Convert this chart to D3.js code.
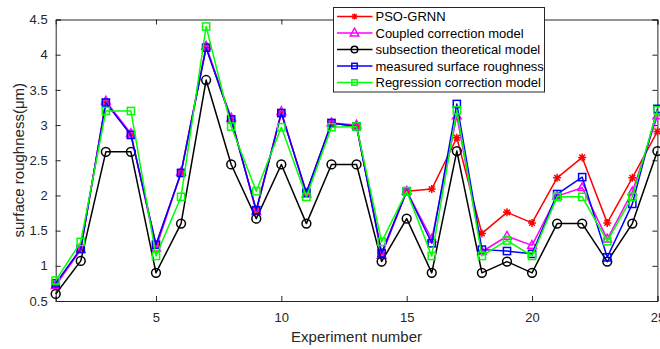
<!DOCTYPE html>
<html>
<head>
<meta charset="utf-8">
<script src="https://cdn.jsdelivr.net/npm/d3@7"></script>
<style>
  html, body { margin: 0; padding: 0; background: #fff; }
  svg { display: block; }
</style>
</head>
<body>
<div id="chart"></div>
<script>
// Data
const experiments = [1, 2, 3, 4, 5, 6, 7, 8, 9, 10, 11, 12, 13, 14, 15, 16, 17, 18, 19, 20, 21, 22, 23, 24, 25];
const psoGrnn    = [0.74, 1.24, 3.32, 2.86, 1.30, 2.32, 4.10, 3.08, 1.79, 3.17, 2.04, 3.03, 2.98, 1.18, 2.06, 2.09, 2.82, 1.46, 1.76, 1.61, 2.25, 2.54, 1.61, 2.25, 2.91];
const coupled    = [0.72, 1.23, 3.34, 2.88, 1.25, 2.33, 4.12, 3.10, 1.77, 3.19, 2.02, 3.03, 3.00, 1.15, 2.06, 1.38, 3.13, 1.20, 1.42, 1.29, 1.99, 2.11, 1.38, 2.05, 3.13];
const subsection = [0.60, 1.07, 2.62, 2.62, 0.90, 1.60, 3.64, 2.44, 1.67, 2.44, 1.60, 2.44, 2.44, 1.06, 1.67, 0.90, 2.63, 0.90, 1.06, 0.90, 1.60, 1.60, 1.06, 1.60, 2.63];
const measured   = [0.75, 1.24, 3.32, 2.86, 1.30, 2.32, 4.10, 3.08, 1.79, 3.17, 2.04, 3.03, 2.98, 1.18, 2.06, 1.32, 3.30, 1.23, 1.21, 1.17, 2.02, 2.26, 1.12, 1.88, 3.23];
const regression = [0.79, 1.34, 3.20, 3.20, 1.14, 1.98, 4.40, 2.98, 2.06, 2.97, 1.98, 2.97, 2.98, 1.34, 2.06, 1.14, 3.21, 1.14, 1.36, 1.14, 1.98, 1.98, 1.35, 1.98, 3.21];

const xTicks = [5, 10, 15, 20, 25];
const yTicks = [0.5, 1, 1.5, 2, 2.5, 3, 3.5, 4, 4.5];

const seriesNames = ["PSO-GRNN", "Coupled correction model", "subsection theoretical model",
    "measured surface roughness", "Regression correction model"];
const seriesValues = [psoGrnn, coupled, subsection, measured, regression];
const seriesColors = ["#ff0000", "#ff00ff", "#000000", "#0000ff", "#00ff00"];
const seriesMarkers = ["asterisk", "triangle", "circle", "square", "square"];

const width = 660, height = 349;
const margin = { top: 19.5, right: 2.6, bottom: 48, left: 55.7 };
const font_family = "Arial, 'Liberation Sans', sans-serif";
const axis_color = "#262626";

const svg = d3.select("#chart").append("svg")
    .attr("width", width)
    .attr("height", height)
    .attr("viewBox", `0 0 ${width} ${height}`);

const xScale = d3.scaleLinear()
    .domain([1, 25])
    .range([margin.left, width - margin.right]);

const yScale = d3.scaleLinear()
    .domain([0.5, 4.5])
    .range([height - margin.bottom, margin.top]);

// Axes (MATLAB style: ticks pointing inward, box all round)
const tickLen = 5;
svg.append("g")
    .attr("transform", `translate(0,${yScale(0.5)})`)
    .call(d3.axisBottom(xScale).tickValues(xTicks).tickSize(-tickLen).tickPadding(11.5).tickFormat(d3.format("d")))
    .call(g => g.select(".domain").attr("stroke", axis_color))
    .call(g => g.selectAll(".tick line").attr("stroke", axis_color))
    .selectAll("text")
    .style("font-size", "13px")
    .style("font-family", font_family)
    .style("fill", axis_color);

svg.append("g")
    .attr("transform", `translate(0,${yScale(4.5)})`)
    .call(d3.axisTop(xScale).tickValues(xTicks).tickSize(-tickLen).tickFormat(""))
    .call(g => g.select(".domain").attr("stroke", axis_color))
    .call(g => g.selectAll(".tick line").attr("stroke", axis_color));

svg.append("g")
    .attr("transform", `translate(${xScale(1)},0)`)
    .call(d3.axisLeft(yScale).tickValues(yTicks).tickSize(-tickLen).tickPadding(8).tickFormat(d => String(d)))
    .call(g => g.select(".domain").attr("stroke", axis_color))
    .call(g => g.selectAll(".tick line").attr("stroke", axis_color))
    .selectAll("text")
    .style("font-size", "13px")
    .style("font-family", font_family)
    .style("fill", axis_color);

svg.append("g")
    .attr("transform", `translate(${xScale(25)},0)`)
    .call(d3.axisRight(yScale).tickValues(yTicks).tickSize(-tickLen).tickFormat(""))
    .call(g => g.select(".domain").attr("stroke", axis_color))
    .call(g => g.selectAll(".tick line").attr("stroke", axis_color));

svg.selectAll(".domain").attr("stroke-width", 1);

// Marker drawing
function drawMarker(sel, type, color, s) {
    if (type === "circle") {
        sel.append("circle").attr("r", s * 0.55).attr("fill", "none")
            .attr("stroke", color).attr("stroke-width", 1.5);
    } else if (type === "square") {
        sel.append("rect").attr("x", -s * 0.45).attr("y", -s * 0.45)
            .attr("width", s * 0.9).attr("height", s * 0.9)
            .attr("fill", "none").attr("stroke", color).attr("stroke-width", 1.5);
    } else if (type === "triangle") {
        const r = s * 0.6;
        sel.append("path")
            .attr("d", `M0,${-r}L${r * 0.9},${r * 0.6}L${-r * 0.9},${r * 0.6}Z`)
            .attr("fill", "none").attr("stroke", color).attr("stroke-width", 1.5);
    } else if (type === "asterisk") {
        const r = s * 0.5, d = r * 0.72;
        sel.append("path")
            .attr("d", `M${-r},0L${r},0M0,${-r}L0,${r}M${-d},${-d}L${d},${d}M${-d},${d}L${d},${-d}`)
            .attr("fill", "none").attr("stroke", color).attr("stroke-width", 1.5);
    }
}

const line = d3.line()
    .x((d, i) => xScale(experiments[i]))
    .y(d => yScale(d));

const plotGroup = svg.append("g");

seriesValues.forEach((values, k) => {
    const g = plotGroup.append("g").attr("class", "series");
    g.append("path")
        .datum(values)
        .attr("fill", "none")
        .attr("stroke", seriesColors[k])
        .attr("stroke-width", 1.5)
        .attr("stroke-linejoin", "round")
        .attr("d", line);

    g.selectAll("g.marker")
        .data(values)
        .enter()
        .append("g")
        .attr("class", "marker")
        .attr("transform", (d, i) => `translate(${xScale(experiments[i])},${yScale(d)})`)
        .each(function () {
            drawMarker(d3.select(this), seriesMarkers[k], seriesColors[k], 8);
        });
});

// X Axis Label
svg.append("text")
    .attr("x", (xScale(1) + xScale(25)) / 2)
    .attr("y", 341.5)
    .attr("text-anchor", "middle")
    .attr("fill", axis_color)
    .attr("font-family", font_family)
    .attr("font-size", "15px")
    .text("Experiment number");

// Y Axis Label
svg.append("text")
    .attr("transform", "rotate(-90)")
    .attr("x", -(yScale(0.5) + yScale(4.5)) / 2)
    .attr("y", 24)
    .attr("text-anchor", "middle")
    .attr("fill", axis_color)
    .attr("font-family", font_family)
    .attr("font-size", "15px")
    .text("surface roughness(μm)");

// Legend
const legend = svg.append("g").attr("transform", "translate(333.5,7.5)");
legend.append("rect")
    .attr("width", 211)
    .attr("height", 84.5)
    .attr("fill", "#fff")
    .attr("stroke", axis_color)
    .attr("stroke-width", 1);

const legendItems = legend.selectAll("g.legend-item")
    .data(seriesNames)
    .enter()
    .append("g")
    .attr("class", "legend-item")
    .attr("transform", (d, i) => `translate(0,${9 + i * 16.5})`);

legendItems.append("line")
    .attr("x1", 3.5).attr("x2", 39)
    .attr("stroke", (d, i) => seriesColors[i])
    .attr("stroke-width", 1.5);

legendItems.append("g")
    .attr("transform", "translate(21,0)")
    .each(function (d, i) {
        drawMarker(d3.select(this), seriesMarkers[i], seriesColors[i], i === 1 ? 8 : 6);
    });

legendItems.append("text")
    .attr("x", 42)
    .attr("dy", "0.36em")
    .attr("fill", "#000")
    .attr("font-family", font_family)
    .attr("font-size", "13px")
    .text(d => d);
</script>
</body>
</html>
